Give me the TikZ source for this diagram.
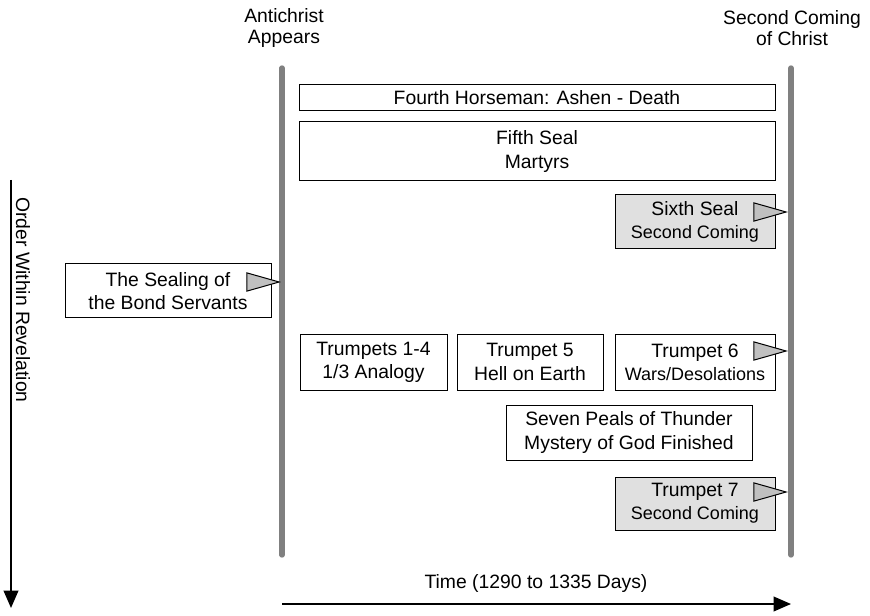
\documentclass[tikz,border=0pt]{standalone}
\usepackage{fontspec}
\setmainfont{Liberation Sans}
\usetikzlibrary{arrows.meta,calc}
\definecolor{bargray}{HTML}{808080}
\definecolor{boxgray}{HTML}{E0E0E0}
\definecolor{trigray}{HTML}{C0C0C0}
\tikzset{
  box/.style={draw=black, line width=0.75pt, fill=white, inner sep=0pt, align=center,
    font=\fontsize{14.5}{17.4}\selectfont},
  graybox/.style={box, fill=boxgray},
  bar/.style={draw=bargray, line width=4pt, line cap=round},
  lbl/.style={align=center, inner sep=0pt, font=\fontsize{14.5}{15.4}\selectfont},
  flag/.style={line width=0.75pt, -{Triangle[length=26pt, width=14.5pt, fill=trigray]}},
  axis/.style={line width=1.2pt, -{Triangle[length=13pt, width=11pt]}},
}
\newcommand{\sm}{\fontsize{13.5}{15}\selectfont}
\begin{document}
\begin{tikzpicture}[x=0.75pt, y=-0.75pt]
\useasboundingbox (0,0) rectangle (870,616);
% bars
\coordinate (lt) at (282,68);
\coordinate (lb) at (282,555);
\coordinate (rt) at (791,68);
\coordinate (rb) at (791,555);
\draw[bar] (lt) -- (lb);
\draw[bar] (rt) -- (rb);
% top labels
\node[lbl] (anti) at (284,28) {Antichrist\\Appears};
\node[lbl] (second) at (792,28) {Second Coming\\of Christ};
% boxes
\node[box, minimum width=476*0.75pt, minimum height=26*0.75pt] (fourth) at (537,97.5) {Fourth Horseman: Ashen - Death};
\node[box, minimum width=476*0.75pt, minimum height=59*0.75pt] (fifth) at (537,151.5) {Fifth Seal\\Martyrs};
\node[graybox, minimum width=160*0.75pt, minimum height=54*0.75pt] (sixth) at (695,222) {Sixth Seal\\{\sm Second Coming}};
\node[box, minimum width=206*0.75pt, minimum height=54*0.75pt] (seal) at (168,291) {The Sealing of\\the Bond Servants};
\node[box, minimum width=147*0.75pt, minimum height=56*0.75pt] (t14) at (373.5,362) {Trumpets 1-4\\1/3 Analogy};
\node[box, minimum width=146*0.75pt, minimum height=56*0.75pt] (t5) at (530,362) {Trumpet 5\\Hell on Earth};
\node[box, minimum width=160*0.75pt, minimum height=56*0.75pt] (t6) at (695,362) {Trumpet 6\\{\sm Wars/Desolations}};
\node[box, minimum width=246*0.75pt, minimum height=55*0.75pt] (peals) at (629,432.5) {Seven Peals of Thunder\\Mystery of God Finished};
\node[graybox, minimum width=160*0.75pt, minimum height=53*0.75pt] (t7) at (695,503.5) {Trumpet 7\\{\sm Second Coming}};
% flags pointing to the bars
\coordinate (f6) at (788,212);
\coordinate (fs) at (281,282);
\coordinate (ft6) at (788,351);
\coordinate (ft7) at (788,492);
\draw[flag] ($(sixth.east |- f6)+(-22,0)$) -- (f6);
\draw[flag] ($(seal.east |- fs)+(-25,0)$) -- (fs);
\draw[flag] ($(t6.east |- ft6)+(-22,0)$) -- (ft6);
\draw[flag] ($(t7.east |- ft7)+(-22,0)$) -- (ft7);
% axes
\coordinate (vt) at (11,180);
\coordinate (vb) at (11,608);
\draw[axis] (vt) -- (vb);
\node[lbl, rotate=-90] (order) at (23,300) {Order Within Revelation};
\coordinate (hl) at (282,604);
\coordinate (hr) at (791,604);
\draw[axis] (hl) -- (hr);
\node[lbl] (time) at (536,583) {Time (1290 to 1335 Days)};
\end{tikzpicture}
\end{document}
